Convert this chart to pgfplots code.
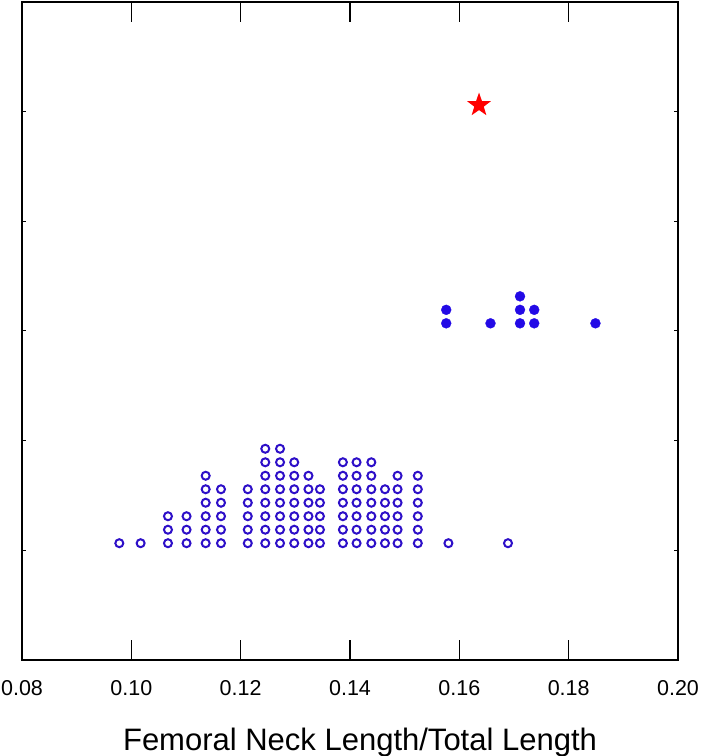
\documentclass[border=0pt]{standalone}
\usepackage{fontspec}
\setmainfont{Liberation Sans}
\usepackage{pgfplots}
\pgfplotsset{compat=1.18}

\definecolor{opencol}{RGB}{45,15,200}
\definecolor{fillcol}{RGB}{35,10,230}

% filled five-point star
\pgfdeclareplotmark{fstar}{%
  \pgfpathmoveto{\pgfpointpolar{90}{\pgfplotmarksize}}%
  \pgfpathlineto{\pgfpointpolar{126}{0.4\pgfplotmarksize}}%
  \pgfpathlineto{\pgfpointpolar{162}{\pgfplotmarksize}}%
  \pgfpathlineto{\pgfpointpolar{198}{0.4\pgfplotmarksize}}%
  \pgfpathlineto{\pgfpointpolar{234}{\pgfplotmarksize}}%
  \pgfpathlineto{\pgfpointpolar{270}{0.4\pgfplotmarksize}}%
  \pgfpathlineto{\pgfpointpolar{306}{\pgfplotmarksize}}%
  \pgfpathlineto{\pgfpointpolar{342}{0.4\pgfplotmarksize}}%
  \pgfpathlineto{\pgfpointpolar{18}{\pgfplotmarksize}}%
  \pgfpathlineto{\pgfpointpolar{54}{0.4\pgfplotmarksize}}%
  \pgfpathclose
  \pgfusepathqfill
}

\begin{document}
\begin{tikzpicture}
\begin{axis}[
  width=656pt, height=658pt, scale only axis,
  xmin=0.08, xmax=0.20, ymin=0, ymax=6,
  xtick={0.08,0.10,0.12,0.14,0.16,0.18,0.20},
  ytick=\empty,
  xticklabel style={/pgf/number format/fixed, /pgf/number format/fixed zerofill,
    /pgf/number format/precision=2, yshift=-17pt},
  /pgf/number format/assume math mode=true,
  ticklabel style={font=\fontsize{21.5}{26}\selectfont},
  tick align=inside, major tick length=20pt,
  tick style={black, line width=1.5pt},
  axis line style={line width=2pt},
  xlabel={Femoral Neck Length/Total Length},
  xlabel style={font=\fontsize{31}{36}\selectfont, at={(axis description cs:0.5,0)},
    anchor=base, yshift=-90pt, xshift=10pt},
  clip=false,
]
\addplot[only marks, mark=o, mark size=4pt, opencol, mark options={line width=2pt}] coordinates {
  (0.0978,1.065)
  (0.1017,1.065)
  (0.1067,1.065) (0.1067,1.188) (0.1067,1.311)
  (0.1101,1.065) (0.1101,1.188) (0.1101,1.311)
  (0.1136,1.065) (0.1136,1.188) (0.1136,1.311) (0.1136,1.434) (0.1136,1.557) (0.1136,1.680)
  (0.1164,1.065) (0.1164,1.188) (0.1164,1.311) (0.1164,1.434) (0.1164,1.557)
  (0.1213,1.065) (0.1213,1.188) (0.1213,1.311) (0.1213,1.434) (0.1213,1.557)
  (0.1245,1.065) (0.1245,1.188) (0.1245,1.311) (0.1245,1.434) (0.1245,1.557) (0.1245,1.680) (0.1245,1.803) (0.1245,1.926)
  (0.1272,1.065) (0.1272,1.188) (0.1272,1.311) (0.1272,1.434) (0.1272,1.557) (0.1272,1.680) (0.1272,1.803) (0.1272,1.926)
  (0.1298,1.065) (0.1298,1.188) (0.1298,1.311) (0.1298,1.434) (0.1298,1.557) (0.1298,1.680) (0.1298,1.803)
  (0.1324,1.065) (0.1324,1.188) (0.1324,1.311) (0.1324,1.434) (0.1324,1.557) (0.1324,1.680)
  (0.1345,1.065) (0.1345,1.188) (0.1345,1.311) (0.1345,1.434) (0.1345,1.557)
  (0.1387,1.065) (0.1387,1.188) (0.1387,1.311) (0.1387,1.434) (0.1387,1.557) (0.1387,1.680) (0.1387,1.803)
  (0.1412,1.065) (0.1412,1.188) (0.1412,1.311) (0.1412,1.434) (0.1412,1.557) (0.1412,1.680) (0.1412,1.803)
  (0.1439,1.065) (0.1439,1.188) (0.1439,1.311) (0.1439,1.434) (0.1439,1.557) (0.1439,1.680) (0.1439,1.803)
  (0.1464,1.065) (0.1464,1.188) (0.1464,1.311) (0.1464,1.434) (0.1464,1.557)
  (0.1487,1.065) (0.1487,1.188) (0.1487,1.311) (0.1487,1.434) (0.1487,1.557) (0.1487,1.680)
  (0.1524,1.065) (0.1524,1.188) (0.1524,1.311) (0.1524,1.434) (0.1524,1.557) (0.1524,1.680)
  (0.1580,1.065)
  (0.1689,1.065)
};
\addplot[only marks, mark=*, mark size=5pt, fillcol, mark options={draw=fillcol, fill=fillcol, line width=0.3pt}] coordinates {
  (0.1576,3.07) (0.1576,3.193)
  (0.1657,3.07)
  (0.1711,3.07) (0.1711,3.193) (0.1711,3.316)
  (0.1737,3.07) (0.1737,3.193)
  (0.1849,3.07)
};
\addplot[only marks, mark=fstar, mark size=12.5pt, red] coordinates {(0.1636,5.06)};
\coordinate (sw) at (rel axis cs:0,0);
\coordinate (ne) at (rel axis cs:1,1);
\end{axis}
% short y ticks on both sides
\begin{axis}[
  width=656pt, height=658pt, scale only axis,
  xmin=0.08, xmax=0.20, ymin=0, ymax=6,
  xtick=\empty, ytick={1,2,3,4,5}, yticklabels={},
  tick align=inside, major tick length=4pt,
  tick style={black, line width=1pt},
  axis line style={draw=none},
]
\end{axis}
\pgfresetboundingbox
\path ([shift={(-22pt,-96pt)}]sw) rectangle ([shift={(30pt,2pt)}]ne);
\end{tikzpicture}
\end{document}
